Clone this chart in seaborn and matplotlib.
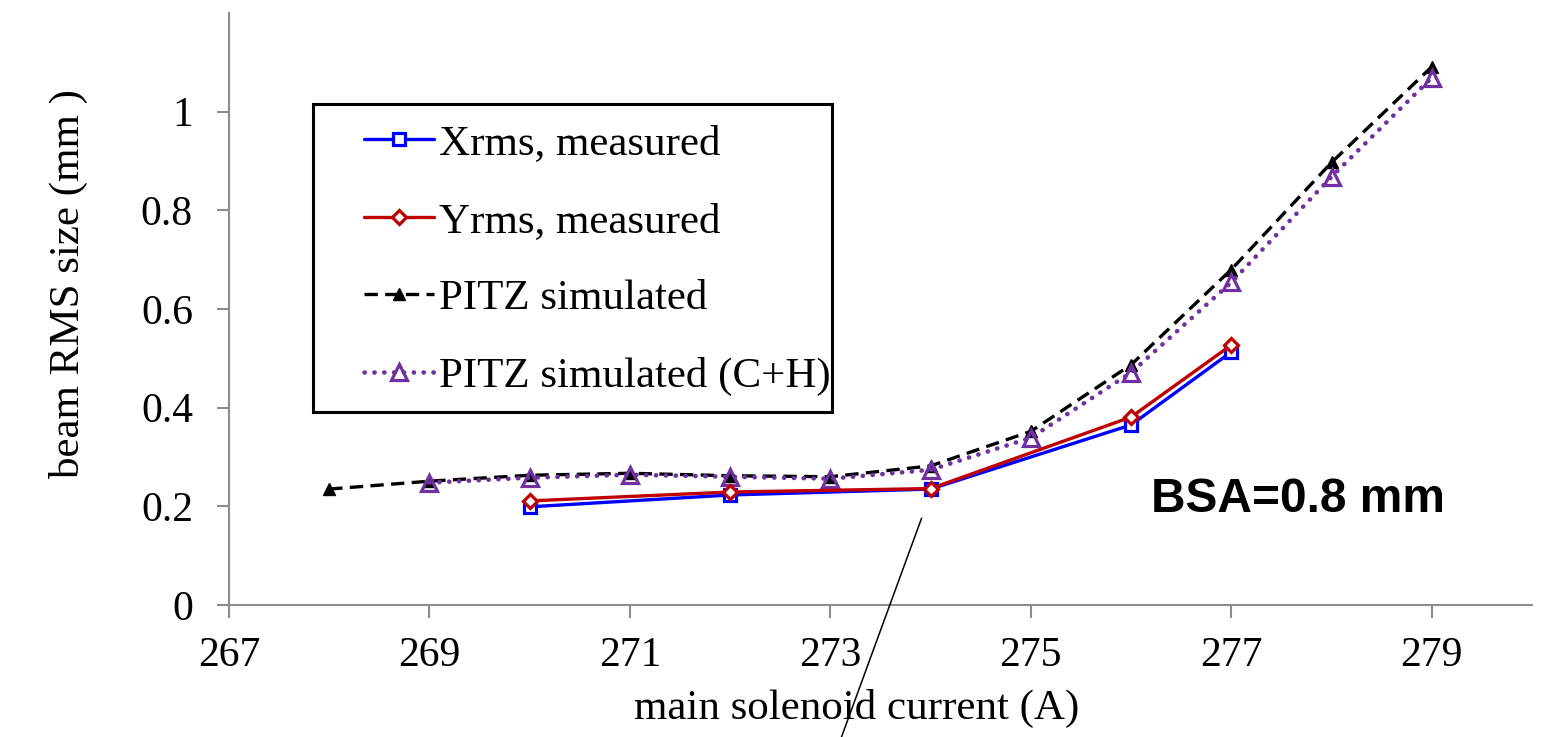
import matplotlib
matplotlib.use("Agg")
import matplotlib.pyplot as plt
import matplotlib.patches as mpatches
import seaborn as sns
import pandas as pd

# ---- data ----
x_meas = [270, 272, 274, 276, 277]
xrms = [0.199, 0.223, 0.235, 0.365, 0.513]
yrms = [0.211, 0.229, 0.236, 0.381, 0.527]

x_sim = [268, 269, 270, 271, 272, 273, 274, 275, 276, 277, 278, 279]
pitz_sim = [0.235, 0.251, 0.263, 0.267, 0.262, 0.260, 0.282, 0.352, 0.487, 0.680, 0.897, 1.091]

x_ch = [269, 270, 271, 272, 273, 274, 275, 276, 277, 278, 279]
pitz_ch = [0.248, 0.258, 0.264, 0.260, 0.256, 0.274, 0.339, 0.471, 0.654, 0.868, 1.069]

labels = ["Xrms, measured", "Yrms, measured", "PITZ simulated", "PITZ simulated (C+H)"]
x_ticks = [267, 269, 271, 273, 275, 277, 279]
y_ticks = [0, 0.2, 0.4, 0.6, 0.8, 1.0]
y_ticklabels = ["0", "0.2", "0.4", "0.6", "0.8", "1"]
annot_text = "BSA=0.8 mm"

sns.set_theme(style="white")
plt.rcParams['font.family'] = ['Liberation Serif', 'DejaVu Serif']
plt.rcParams['text.color'] = 'black'
plt.rcParams['axes.labelcolor'] = 'black'

W, H = 1557, 737
fig = plt.figure(figsize=(W / 100, H / 100), dpi=100)
ax = fig.add_axes([229 / W, 1 - 605 / H, (1532 - 229) / W, (605 - 13) / H])

df_sim = pd.DataFrame({"x": x_sim, "y": pitz_sim})
df_ch = pd.DataFrame({"x": x_ch, "y": pitz_ch})
df_xm = pd.DataFrame({"x": x_meas, "y": xrms})
df_ym = pd.DataFrame({"x": x_meas, "y": yrms})

sns.lineplot(data=df_sim, x="x", y="y", ax=ax, color="black", linewidth=2.4,
             linestyle=(0, (4.0, 2.2)), marker="^", markersize=8.5,
             markerfacecolor="black", markeredgecolor="black", markeredgewidth=1,
             label=labels[2], zorder=3)
sns.lineplot(data=df_ch, x="x", y="y", ax=ax, color="#7030A0", linewidth=3.3,
             linestyle=(0, (0.05, 2.1)), dash_capstyle="round", marker="^", markersize=11,
             markerfacecolor="none", markeredgecolor="#7030A0", markeredgewidth=2.3,
             label=labels[3], zorder=4)
sns.lineplot(data=df_xm, x="x", y="y", ax=ax, color="#0000FF", linewidth=2.4,
             marker="s", markersize=8, markerfacecolor="white", markeredgecolor="#0000FF",
             markeredgewidth=2.3, label=labels[0], zorder=5)
sns.lineplot(data=df_ym, x="x", y="y", ax=ax, color="#C00000", linewidth=2.4,
             marker="D", markersize=7, markerfacecolor="white", markeredgecolor="#C00000",
             markeredgewidth=2.3, label=labels[1], zorder=6)

ax.set_xlim(267, 280)
ax.set_ylim(0, 1.2)
ax.set_xticks(x_ticks)
ax.set_xticklabels([str(t) for t in x_ticks])
ax.set_yticks(y_ticks)
ax.set_yticklabels(y_ticklabels)
ax.tick_params(axis="both", labelsize=30, colors="#8c8c8c", labelcolor="black",
               length=9, width=1.5, direction="out", bottom=True, left=True)
ax.tick_params(axis="x", pad=14)
ax.tick_params(axis="y", pad=17)
for s in ["top", "right"]:
    ax.spines[s].set_visible(False)
for s in ["left", "bottom"]:
    ax.spines[s].set_color("#8c8c8c")
    ax.spines[s].set_linewidth(1.5)
ax.set_xlabel("")
ax.set_ylabel("")

fig.text(857 / W, 1 - 708 / H, "main solenoid current (A)", ha="center", va="center", fontsize=31)
fig.text(68 / W, 1 - 284 / H, "beam RMS size (mm )", ha="center", va="center",
         rotation=90, fontsize=31)

fig.text(1298 / W, 1 - 500 / H, annot_text, ha="center", va="center", fontsize=34.5,
         fontweight="bold", family=["Liberation Sans", "DejaVu Sans"])

# annotation pointer line
ax.annotate("", xy=(273.91, 0.176), xytext=(273.11, -0.268), xycoords="data",
            textcoords="data", annotation_clip=False,
            arrowprops=dict(arrowstyle="-", color="black", lw=1.1, shrinkA=0, shrinkB=0))

# legend frame
frame = mpatches.Rectangle((313 / W, 1 - 412 / H), (832 - 313) / W, (412 - 104) / H,
                           transform=fig.transFigure, facecolor="white", edgecolor="black",
                           linewidth=2.2, zorder=9, clip_on=False)
ax.add_artist(frame)

handles, labs = ax.get_legend_handles_labels()
order = [labs.index(l) for l in labels]
leg = ax.legend([handles[i] for i in order], [labs[i] for i in order],
                loc="upper left", bbox_to_anchor=(364 / W, 1 - 124 / H),
                bbox_transform=fig.transFigure, borderaxespad=0, fontsize=31,
                frameon=False, handlelength=1.63,
                handletextpad=0.12, labelspacing=0.895, borderpad=0)
leg.set_zorder(10)

fig.savefig("out.png", dpi=100)
